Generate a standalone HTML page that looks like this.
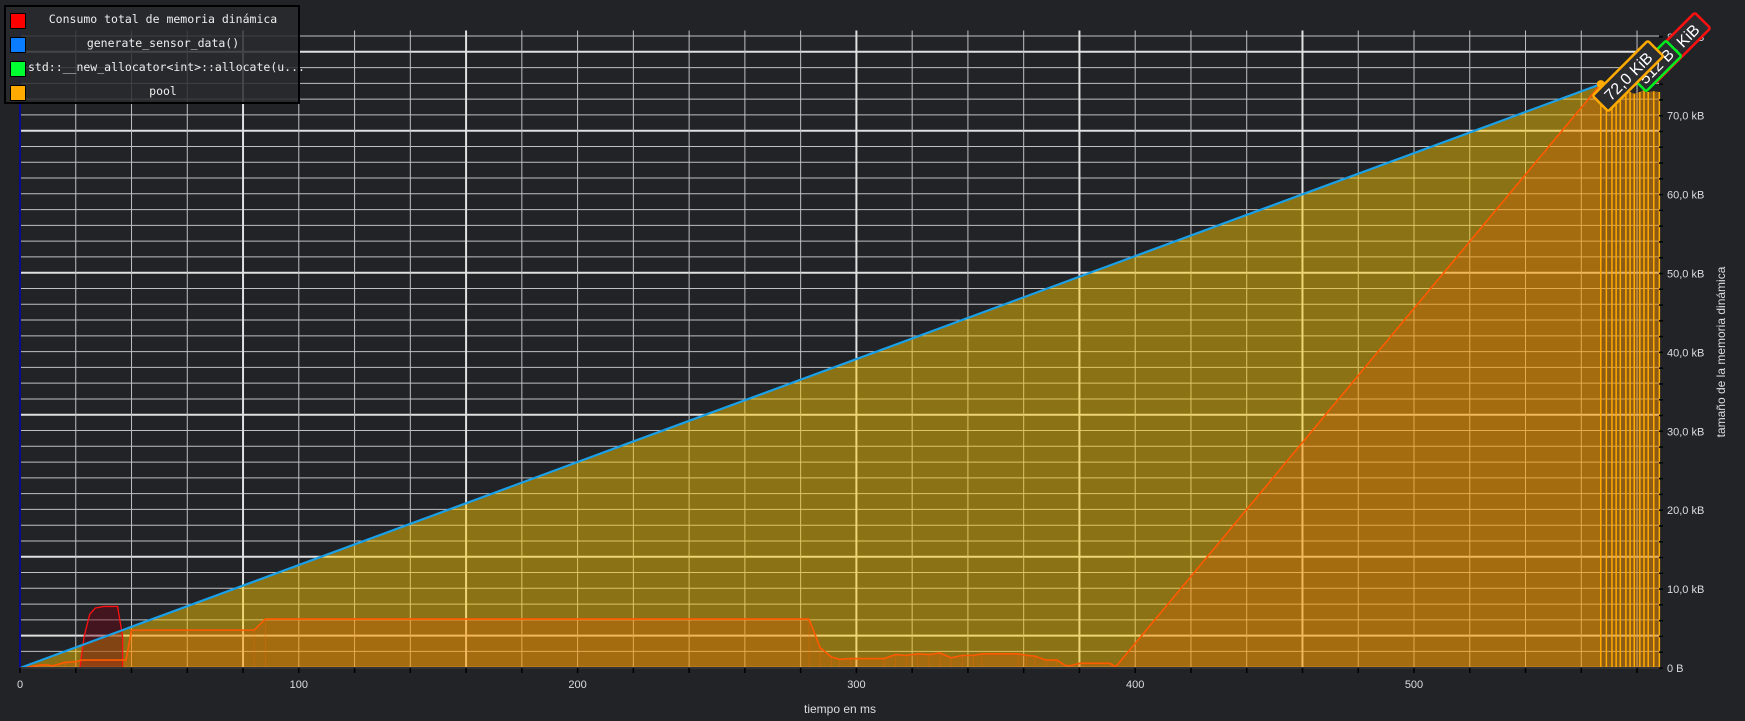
<!DOCTYPE html>
<html><head><meta charset="utf-8">
<style>
html,body{margin:0;padding:0;background:#212327;}
svg{display:block;font-family:"Liberation Sans",sans-serif;}
.legend{position:absolute;left:4px;top:5px;width:296px;height:99px;background:rgba(40,42,46,0.85);border:2px solid #000;box-sizing:border-box;font-family:"DejaVu Sans Mono","Liberation Mono",monospace;font-size:11.5px;color:#eee;}
.row{position:absolute;left:0;width:292px;height:24px;}
.sw{position:absolute;left:4px;top:2px;width:14px;height:14px;border:1px solid #000;}
.lt{position:absolute;left:22px;right:0;top:1px;text-align:center;white-space:nowrap;}
</style></head>
<body>
<div style="position:relative;width:1745px;height:721px;overflow:hidden;">
<svg id="chart" width="1745" height="721"></svg>
<div class="legend">
 <div class="row" style="top:4px"><div class="sw" style="background:#ff0000"></div><div class="lt">Consumo total de memoria dinámica</div></div>
 <div class="row" style="top:28px"><div class="sw" style="background:#0a7cff"></div><div class="lt">generate_sensor_data()</div></div>
 <div class="row" style="top:52px"><div class="sw" style="background:#00ff30"></div><div class="lt">std::__new_allocator&lt;int&gt;::allocate(u...</div></div>
 <div class="row" style="top:76px"><div class="sw" style="background:#ffaa00"></div><div class="lt">pool</div></div>
</div>
</div>
<script>
// data
const blueT = [0, 567];
const blueV = [0, 74];
const orangeT = [0,8,12,16,20,22,38,40,84,88,283,287,291,294,298,310,314,318,322,326,330,334,338,342,345,358,361,364,368,372,375,377,380,391,393,567];
const orangeV = [0,0.4,0.3,0.7,0.8,1.0,1.0,4.8,4.8,6.2,6.2,2.6,1.4,1.1,1.2,1.2,1.7,1.6,1.8,1.7,1.9,1.3,1.6,1.6,1.8,1.8,1.6,1.5,1.0,1.0,0.3,0.3,0.6,0.6,0.15,74];
const redT = [21.5,23,25,27,30,35,36.8];
const redV = [0,4,6.8,7.6,7.8,7.8,4];
const endBarsT = [567,569,571,572.5,574,576,577.5,579,581,582.5,584,586,588];
const endBarsV = [74,73,73,73.5,73,73.2,73,72.8,73,73.3,73,73.1,73];
const xTicks = [0,100,200,300,400,500];
const yTicks = [0,10,20,30,40,50,60,70,80];
const yTickLabels = ["0 B","10,0 kB","20,0 kB","30,0 kB","40,0 kB","50,0 kB","60,0 kB","70,0 kB","80,0 kB"];

const NS="http://www.w3.org/2000/svg";
const svg=document.getElementById('chart');
const X0=20,X1=1659,Y0=668;
const x=t=>X0+t*2.788;
const y=v=>Y0-v*7.89;
function mk(tag,attrs,parent){const e=document.createElementNS(NS,tag);for(const k in attrs)e.setAttribute(k,attrs[k]);(parent||svg).appendChild(e);return e;}

// grid
for(let v=0.1;v<=80.2;v+=2){
  const thick=[4,14,32,50,68,78].some(q=>Math.abs(q-v)<0.5);
  const l=mk('line',{x1:X0,x2:X1,y1:y(v),y2:y(v),stroke:thick?'#e0e0e0':'#c0c0c0','stroke-width':thick?2:1});
  
  
}
for(let t=20;t<=580;t+=20){
  const thick=[80,160,300,380,460].includes(t);
  const l=mk('line',{x1:x(t),x2:x(t),y1:y(80.8),y2:Y0,stroke:thick?'#e0e0e0':'#c0c0c0','stroke-width':thick?2:1});
  
  
}

// blue area fill
const bd=`M${x(blueT[0])},${Y0} `+blueT.map((t,i)=>`L${x(t)},${y(blueV[i])}`).join(' ')+` L${x(blueT[blueT.length-1])},${Y0} Z`;
const ba=mk('path',{d:bd,fill:'rgba(255,200,0,0.48)'});



// orange area
const od=`M${x(orangeT[0])},${Y0} `+orangeT.map((t,i)=>`L${x(t)},${y(orangeV[i])}`).join(' ')+` L${x(orangeT[orangeT.length-1])},${Y0} Z`;
const oa=mk('path',{d:od,fill:'rgba(255,80,0,0.22)'});


orangeT.forEach((t,i)=>{if(i>0&&i<orangeT.length-1){const l=mk('line',{x1:x(t),x2:x(t),y1:y(orangeV[i]),y2:Y0,stroke:'rgba(255,110,0,0.3)','stroke-width':1});

}});

// red area
const rd=`M${x(redT[0])},${Y0} `+redT.map((t,i)=>`L${x(t)},${y(redV[i])}`).join(' ')+` L${x(redT[redT.length-1])},${Y0} Z`;
const ra=mk('path',{d:rd,fill:'rgba(120,0,20,0.4)',stroke:'#ff1010','stroke-width':1.3});



// end bars
const ed=`M${x(endBarsT[0])},${Y0} `+endBarsT.map((t,i)=>`L${x(t)},${y(endBarsV[i])}`).join(' ')+` L${x(endBarsT[endBarsT.length-1])},${Y0} Z`;
const ea=mk('path',{d:ed,fill:'rgba(230,140,10,0.55)'});


endBarsT.forEach((t,i)=>{const l=mk('line',{x1:x(t),x2:x(t),y1:y(endBarsV[i]),y2:Y0,stroke:'#ffaa00','stroke-width':1.5});

});

// lines
const ol=mk('polyline',{points:orangeT.map((t,i)=>`${x(t)},${y(orangeV[i])}`).join(' '),fill:'none',stroke:'#ff5a00','stroke-width':1.6});


const bl=mk('polyline',{points:blueT.map((t,i)=>`${x(t)},${y(blueV[i])}`).join(' '),fill:'none',stroke:'#1aa0e8','stroke-width':2.2});



// axes
const la=mk('line',{x1:X0,x2:X0,y1:y(80.8),y2:Y0,stroke:'#0a0a90','stroke-width':2});


const xa=mk('line',{x1:X0,x2:X1,y1:Y0,y2:Y0,stroke:'#333','stroke-width':2});


for(let t=0;t<=580;t+=20){const l=mk('line',{x1:x(t),x2:x(t),y1:Y0,y2:Y0+5,stroke:'#000','stroke-width':1.5});

}
xTicks.forEach(t=>{const e=mk('text',{x:x(t),y:Y0+20,fill:'#ddd','font-size':11,'text-anchor':'middle'});e.textContent=t;

});
for(let v=0;v<=80;v+=2){const l=mk('line',{x1:X1,x2:X1+4,y1:y(v),y2:y(v),stroke:'#000','stroke-width':1.5});

}
yTicks.forEach((v,i)=>{const e=mk('text',{x:X1+8,y:y(v)+4,fill:'#ddd','font-size':11});e.textContent=yTickLabels[i];

});
const xt=mk('text',{x:840,y:713,fill:'#ddd','font-size':12,'text-anchor':'middle'});xt.textContent='tiempo en ms';


const yt=mk('text',{x:0,y:0,fill:'#ddd','font-size':12,'text-anchor':'middle',transform:'translate(1725,352) rotate(-90)'});yt.textContent='tamaño de la memoria dinámica';



// markers and labels
const dot=mk('circle',{cx:x(567),cy:y(74),r:4,fill:'#ffaa00'});


function label(cx,cy,w,txt,col,name){
  const g=mk('g',{transform:`translate(${cx},${cy}) rotate(-45)`});
  
  
  mk('rect',{x:-w/2,y:-11,width:w,height:22,rx:2,fill:'#2a2c30',stroke:col,'stroke-width':2.5},g);
  const t=mk('text',{x:0,y:6,fill:'#fff','font-size':16,'text-anchor':'middle'},g);t.textContent=txt;
}
label(1675,48,78,'73,3 KiB','#ff1010','total-peak-label');
label(1656,66,50,'512 B','#00ee20','allocator-peak-label');
label(1628,76,78,'72,0 KiB','#ffaa00','pool-peak-label');
</script>
</body></html>
